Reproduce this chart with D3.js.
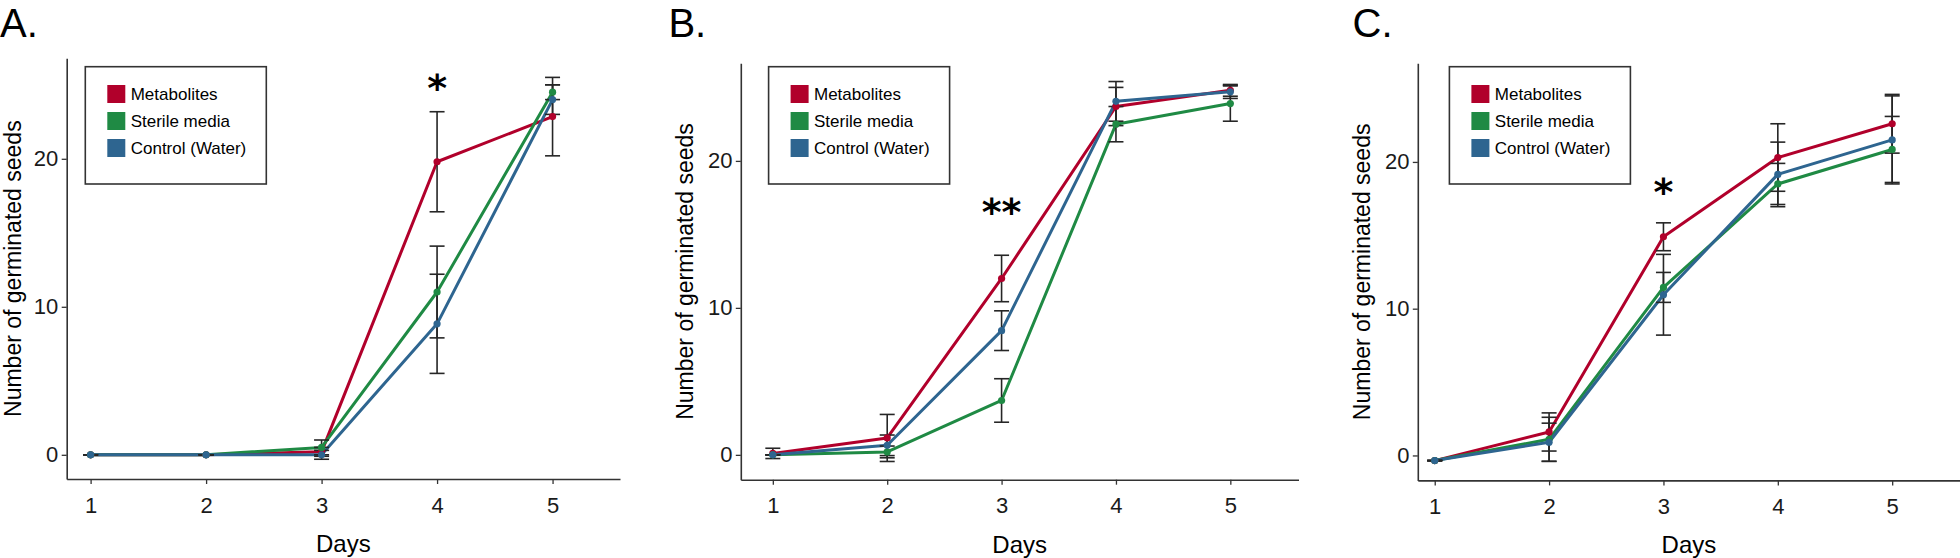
<!DOCTYPE html>
<html>
<head>
<meta charset="utf-8">
<script src="https://cdn.jsdelivr.net/npm/d3@7"></script>
<style>
  html, body { margin: 0; padding: 0; background: #fff; }
  svg { display: block; font-family: "Liberation Sans", Arial, sans-serif; }
</style>
</head>
<body>
<script>
// ---------- DATA ----------
const days = [1, 2, 3, 4, 5];
const seriesNames = ["Metabolites", "Sterile media", "Control (Water)"];
const seriesColors = ["#B1002B", "#1F8A44", "#2E6590"];
const yTickValues = [0, 10, 20];
const panelLabels = ["A.", "B.", "C."];

// Panel A
const metA = [0, 0, 0.2, 19.8, 22.85];
const sterA = [0, 0, 0.5, 11.0, 24.5];
const ctrlA = [0, 0, 0, 8.85, 24.0];
const metA_err = [0, 0, 0.3, 3.38, 2.65];
const sterA_err = [0, 0, 0.5, 3.1, 0.5];
const ctrlA_err = [0, 0, 0.3, 3.35, 1.0];

// Panel B
const metB = [0.1, 1.15, 12.0, 23.7, 24.8];
const sterB = [0, 0.2, 3.7, 22.5, 23.9];
const ctrlB = [0, 0.65, 8.45, 24.05, 24.7];
const metB_err = [0.35, 1.6, 1.58, 1.3, 0.4];
const sterB_err = [0, 0.4, 1.48, 1.2, 1.2];
const ctrlB_err = [0, 0.7, 1.35, 1.35, 0.45];

// Panel C
const metC = [-0.35, 1.6, 14.9, 20.3, 22.6];
const sterC = [-0.35, 1.1, 11.45, 18.5, 20.85];
const ctrlC = [-0.35, 0.9, 10.95, 19.15, 21.5];
const metC_err = [0, 1.3, 0.95, 2.3, 2.0];
const sterC_err = [0, 1.5, 1.02, 1.4, 2.25];
const ctrlC_err = [0, 1.3, 2.75, 2.2, 3.0];

// Significance marks: [day, y-value of mark centre, text]
const sigA = [4, 25.26, "*"];
const sigB = [3, 17.03, "**"];
const sigC = [3, 18.43, "*"];

// ---------- LAYOUT ----------
const W = 1960, H = 558;
const layouts = [
  { labelX: 0,      left: 66.7,   right: 620,    top: 58.3, bottom: 479,   xDom: [0.793, 5.584], yDom: [-1.635, 26.79], titleX: 21,   legendX: 85.3 },
  { labelX: 668.4,  left: 740.8,  right: 1298.5, top: 63.3, bottom: 479.7, xDom: [0.72, 5.596],  yDom: [-1.69, 26.64],  titleX: 693,  legendX: 768.6 },
  { labelX: 1352.6, left: 1417.8, right: 1960,   top: 63.3, bottom: 480.4, xDom: [0.852, 5.593], yDom: [-1.70, 26.72],  titleX: 1370, legendX: 1449.4 }
];

const panels = [
  { means: [metA, sterA, ctrlA], errs: [metA_err, sterA_err, ctrlA_err], sig: sigA },
  { means: [metB, sterB, ctrlB], errs: [metB_err, sterB_err, ctrlB_err], sig: sigB },
  { means: [metC, sterC, ctrlC], errs: [metC_err, sterC_err, ctrlC_err], sig: sigC }
];

const svg = d3.select("body").append("svg").attr("width", W).attr("height", H);

const axisColor = "#333";

panels.forEach((p, pi) => {
  const L = layouts[pi];
  const g = svg.append("g");
  const x = d3.scaleLinear().domain(L.xDom).range([L.left, L.right]);
  const y = d3.scaleLinear().domain(L.yDom).range([L.bottom, L.top]);

  // panel label
  g.append("text").attr("x", L.labelX).attr("y", 37)
    .attr("font-size", 40).attr("fill", "#000").text(panelLabels[pi]);

  // x axis
  const xa = g.append("g").attr("transform", `translate(0,${L.bottom})`)
    .call(d3.axisBottom(x).tickValues(days).tickFormat(d3.format("d")).tickSize(5).tickSizeOuter(0).tickPadding(13));
  // y axis
  const ya = g.append("g").attr("transform", `translate(${L.left},0)`)
    .call(d3.axisLeft(y).tickValues(yTickValues).tickSize(5).tickSizeOuter(0).tickPadding(3.4));
  [xa, ya].forEach(a => {
    a.select(".domain").attr("stroke", axisColor).attr("stroke-width", 1.6);
    a.selectAll(".tick line").attr("stroke", axisColor).attr("stroke-width", 1.3);
    a.selectAll(".tick text").attr("fill", "#1a1a1a").attr("font-size", 22)
      .attr("font-family", "Liberation Sans, Arial, sans-serif");
  });

  // axis titles
  g.append("text").attr("x", (L.left + L.right) / 2).attr("y", L.bottom + 73)
    .attr("text-anchor", "middle").attr("font-size", 24).attr("fill", "#000").text("Days");
  g.append("text")
    .attr("transform", `translate(${L.titleX},${(L.top + L.bottom) / 2}) rotate(-90)`)
    .attr("text-anchor", "middle").attr("font-size", 23).attr("fill", "#000")
    .text("Number of germinated seeds");

  // lines
  const line = d3.line().x((d, i) => x(days[i])).y(d => y(d));
  p.means.forEach((m, si) => {
    g.append("path").datum(m).attr("d", line).attr("fill", "none")
      .attr("stroke", seriesColors[si]).attr("stroke-width", 3)
      .attr("stroke-linejoin", "round").attr("stroke-linecap", "round");
  });

  // error bars
  const capHalf = 7.5;
  p.means.forEach((m, si) => {
    const eg = g.append("g").attr("stroke", "#262626").attr("stroke-width", 1.6).attr("fill", "none");
    m.forEach((v, i) => {
      const e = p.errs[si][i];
      const cx = x(days[i]);
      if (e > 0) {
        eg.append("line").attr("x1", cx).attr("x2", cx).attr("y1", y(v - e)).attr("y2", y(v + e));
      }
      eg.append("line").attr("x1", cx - capHalf).attr("x2", cx + capHalf).attr("y1", y(v + e)).attr("y2", y(v + e));
      eg.append("line").attr("x1", cx - capHalf).attr("x2", cx + capHalf).attr("y1", y(v - e)).attr("y2", y(v - e));
    });
  });

  // points
  p.means.forEach((m, si) => {
    g.append("g").selectAll("circle").data(m).join("circle")
      .attr("cx", (d, i) => x(days[i])).attr("cy", d => y(d)).attr("r", 3.6)
      .attr("fill", seriesColors[si]);
  });

  // significance
  const [sd, sv, st] = p.sig;
  g.append("text").attr("x", x(sd)).attr("y", y(sv) + 20.5)
    .attr("text-anchor", "middle").attr("font-family", "DejaVu Sans, sans-serif")
    .attr("font-weight", "bold").attr("font-size", 38).attr("fill", "#000").text(st);

  // legend
  const lg = g.append("g").attr("transform", `translate(${L.legendX},66.7)`);
  lg.append("rect").attr("width", 181).attr("height", 117.3)
    .attr("fill", "#fff").attr("stroke", axisColor).attr("stroke-width", 1.6);
  seriesNames.forEach((name, si) => {
    const yy = 18.3 + si * 27;
    lg.append("rect").attr("x", 22).attr("y", yy).attr("width", 18).attr("height", 18)
      .attr("fill", seriesColors[si]);
    lg.append("text").attr("x", 45.4).attr("y", yy + 9).attr("dy", "0.36em")
      .attr("font-size", 17).attr("fill", "#000").text(name);
  });
});
</script>
</body>
</html>
